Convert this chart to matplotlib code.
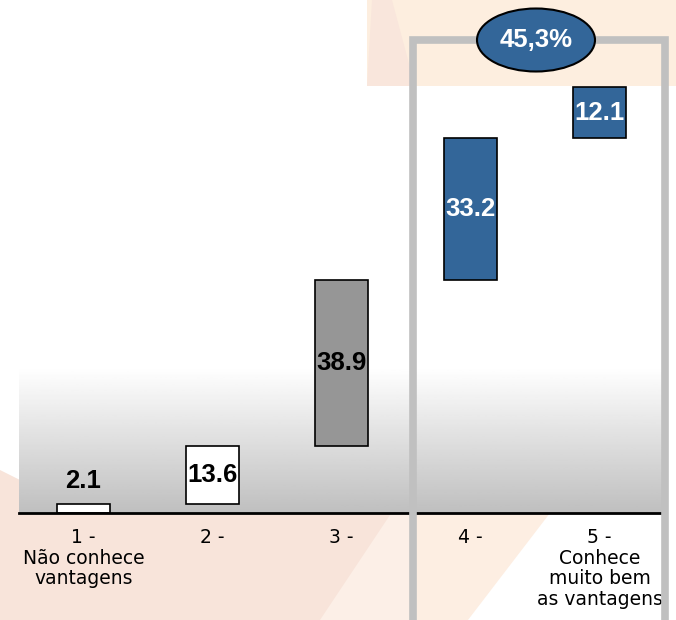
import numpy as np
import matplotlib.pyplot as plt
from matplotlib.patches import Rectangle, Ellipse, Polygon

# Data (% by level of knowledge of the advantages)
categories = ["1 -\nNão conhece\nvantagens", "2 -", "3 -", "4 -",
              "5 -\nConhece\nmuito bem\nas vantagens"]
values = [2.1, 13.6, 38.9, 33.2, 12.1]
bar_colors = ["white", "white", "#969696", "#336699", "#336699"]
label_colors = ["black", "black", "black", "white", "white"]
highlight = [3, 4]   # categories summed in the ellipse

W, H = 676, 620
fig = plt.figure(figsize=(W / 100, H / 100), dpi=100)
fig.patch.set_facecolor("white")


def px(points):
    # pixel coords (origin top-left) -> figure fraction
    return [(x / W, 1 - y / H) for x, y in points]


def bg(points, color):
    fig.patches.append(Polygon(px(points), closed=True,
                               transform=fig.transFigure, facecolor=color,
                               edgecolor="none", zorder=-2))


# slide background decoration
bg([(367, 0), (676, 0), (676, 86), (367, 86)], "#fdeedf")
bg([(372, 0), (392, 0), (415, 86), (367, 86)], "#f9e6dc")
bg([(0, 470), (60, 500), (420, 500), (420, 620), (0, 620)], "#f8e4da")
bg([(400, 500), (420, 500), (420, 620), (320, 620)], "#fcefe7")
bg([(416, 500), (560, 500), (468, 620), (416, 620)], "#fdeee2")

ax = fig.add_axes([19 / W, 1 - 513 / H, (664 - 19) / W, (513 - 86) / H])
ax.set_zorder(1)
ax.set_xlim(-0.5, 4.5)
ax.set_ylim(0, 100.1)

# white-to-gray gradient in plot area
grad = np.ones((256, 1))
yy = np.linspace(0, 100.1, 256)
grad[:, 0] = np.clip(yy / 34, 0, 1)
ax.imshow(grad, extent=(-0.5, 4.5, 0, 100.1), origin="lower", aspect="auto",
          cmap="gray", vmin=-3.0, vmax=1, zorder=0)

x = np.arange(len(values))
bottoms = np.concatenate([[0], np.cumsum(values)[:-1]])
ax.bar(x, values, bottom=bottoms, width=0.41, color=bar_colors,
       edgecolor="black", linewidth=1.2, zorder=2)

for i, (v, b) in enumerate(zip(values, bottoms)):
    if i == 0:
        ypos, va = b + v + 2.5, "bottom"
    else:
        ypos, va = b + v / 2, "center"
    ax.text(i, ypos, f"{v:.1f}", ha="center", va=va, fontsize=18.5,
            fontweight="bold", color=label_colors[i],
            family="Liberation Sans", zorder=3)

ax.set_xticks(x)
ax.set_xticklabels(categories, fontsize=13.5, family="DejaVu Sans",
                   linespacing=1.1)
ax.tick_params(axis="x", length=0, pad=11)
ax.set_yticks([])
for s in ["top", "left", "right"]:
    ax.spines[s].set_visible(False)
ax.spines["bottom"].set_linewidth(2)

# highlight box around categories 4 and 5
fig.patches.append(Rectangle((412.5 / W, 1 - 622 / H), (665 - 412.5) / W,
                             (622 - 39.5) / H, transform=fig.transFigure,
                             fill=False, edgecolor="#c0c0c0", linewidth=5.5,
                             zorder=5))
fig.patches.append(Ellipse((536 / W, 1 - 40 / H), 118 / W, 63 / H,
                           transform=fig.transFigure, facecolor="#336699",
                           edgecolor="black", linewidth=1.5, zorder=6))
total = sum(values[i] for i in highlight)
fig.text(536 / W, 1 - 40 / H, f"{total:.1f}%".replace(".", ","),
         ha="center", va="center", fontsize=18.5, fontweight="bold",
         color="white", family="Liberation Sans", zorder=7)

fig.savefig("out.png", dpi=100)
